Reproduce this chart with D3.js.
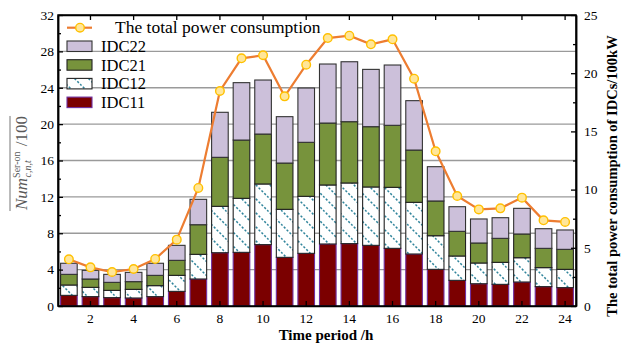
<!DOCTYPE html>
<html>
<head>
<meta charset="utf-8">
<script src="https://cdn.jsdelivr.net/npm/d3@7"></script>
<style>
body{margin:0;background:#fff;}
svg, svg text{font-family:"Liberation Serif","Times New Roman",serif !important;}
</style>
</head>
<body>
<svg id="chart"></svg>
<script>
var hours=d3.range(1,25);
var idc11=[1.17,1.03,0.92,0.88,1.03,1.61,2.97,5.86,5.90,6.75,5.35,5.79,6.82,6.86,6.67,6.34,5.72,4.03,2.82,2.45,2.38,2.64,2.13,2.02];
var idc12=[1.14,1.02,0.80,0.95,1.21,1.76,2.71,5.10,5.94,6.67,5.28,6.27,6.49,6.67,6.42,6.71,5.68,3.70,2.68,2.28,2.42,2.67,2.09,2.01];
var idc21=[1.17,0.92,0.88,0.85,1.13,1.65,3.26,5.39,6.41,5.49,5.09,5.94,6.81,6.74,6.63,6.82,5.75,3.82,2.71,2.20,2.64,2.61,2.12,2.20];
var idc22=[1.22,0.95,0.88,1.02,1.33,1.65,2.79,4.95,6.31,5.94,5.10,5.97,6.49,6.59,6.30,6.63,5.43,3.77,2.71,2.64,2.27,2.82,2.16,2.13];
var power=[4.01,3.32,2.92,3.18,4.04,5.70,10.14,18.47,21.28,21.54,18.01,20.73,23.02,23.22,22.48,22.91,19.53,13.29,9.45,8.30,8.39,9.31,7.36,7.22];
var keys=["IDC11","IDC12","IDC21","IDC22"];
var leftTicks=[0,4,8,12,16,20,24,28,32];
var rightTicks=[0,5,10,15,20,25];
var xTicks=[2,4,6,8,10,12,14,16,18,20,22,24];

var W=628,H=344;
var margin={left:58,right:52,top:15,bottom:38};
var pw=W-margin.left-margin.right, ph=H-margin.top-margin.bottom;
var serif="Liberation Serif, Times New Roman, serif";

var svg=d3.select("#chart").attr("width",W).attr("height",H).style("font-family",serif);
var defs=svg.append("defs");
var pat=defs.append("pattern").attr("id","hatch")
  .attr("patternUnits","userSpaceOnUse").attr("width",14).attr("height",14);
pat.append("rect").attr("width",14).attr("height",14).attr("fill","#fff");
pat.append("path").attr("d","M-1,-1 L15,15 M-1,13 L1,15 M13,-1 L15,1")
  .attr("stroke","#31859C").attr("stroke-width",1.5).attr("stroke-dasharray","2.2,1.8");

var fills={IDC11:"#7B0000",IDC12:"url(#hatch)",IDC21:"#77933C",IDC22:"#CCC0DA"};
var strokes={IDC11:"#7030A0",IDC12:"#222",IDC21:"#222",IDC22:"#333"};

var g=svg.append("g").attr("transform","translate("+margin.left+","+margin.top+")");

var x=d3.scaleBand().domain(hours).range([0,pw]).paddingInner(0.23).paddingOuter(0.12);
var y=d3.scaleLinear().domain([0,32]).range([ph,0]);
var y2=d3.scaleLinear().domain([0,25]).range([ph,0]);

// grid
g.selectAll(".grid").data(leftTicks.slice(1,-1)).enter().append("line")
  .attr("x1",0).attr("x2",pw).attr("y1",function(d){return y(d);}).attr("y2",function(d){return y(d);})
  .attr("stroke","#9a9a9a").attr("stroke-width",1.3);

var table=hours.map(function(h,i){return {hour:h,IDC11:idc11[i],IDC12:idc12[i],IDC21:idc21[i],IDC22:idc22[i]};});
var stack=d3.stack().keys(keys)(table);

g.selectAll(".layer").data(stack).enter().append("g")
  .attr("fill",function(d){return fills[d.key];})
  .attr("stroke",function(d){return strokes[d.key];})
  .selectAll("rect").data(function(d){return d;}).enter().append("rect")
  .attr("x",function(d){return x(d.data.hour);})
  .attr("width",x.bandwidth())
  .attr("y",function(d){return y(d[1]);})
  .attr("height",function(d){return y(d[0])-y(d[1]);})
  .attr("stroke-width",1.1);

// line
var cx=function(h){return x(h)+x.bandwidth()/2;};
var line=d3.line().x(function(d,i){return cx(hours[i]);}).y(function(d){return y2(d);});
g.append("path").datum(power).attr("d",line).attr("fill","none")
  .attr("stroke","#ED7D31").attr("stroke-width",2.2);
g.selectAll(".pt").data(power).enter().append("circle")
  .attr("cx",function(d,i){return cx(hours[i]);}).attr("cy",function(d){return y2(d);})
  .attr("r",4.3).attr("fill","#FFE699").attr("stroke","#FFC000").attr("stroke-width",1.4);

// axes
var xAxis=d3.axisBottom(x).tickValues(xTicks).tickSizeInner(-5).tickSizeOuter(0).tickPadding(7);
g.append("g").attr("transform","translate(0,"+ph+")").call(xAxis);
var xTop=d3.axisTop(x).tickValues(xTicks).tickSizeInner(-5).tickSizeOuter(0).tickFormat("");
g.append("g").call(xTop);

var yAxis=d3.axisLeft(y).tickValues(leftTicks).tickSizeInner(-5).tickSizeOuter(0).tickPadding(4);
g.append("g").call(yAxis);
var yMinor=d3.axisLeft(y).tickValues(d3.range(2,32,4)).tickSizeInner(-3).tickSizeOuter(0).tickFormat("");
g.append("g").call(yMinor);

var yAxis2=d3.axisRight(y2).tickValues(rightTicks).tickSizeInner(-5).tickSizeOuter(0).tickPadding(8);
g.append("g").attr("transform","translate("+pw+",0)").call(yAxis2);
var yMinor2=d3.axisRight(y2).tickValues([2.5,7.5,12.5,17.5,22.5]).tickSizeInner(-3).tickSizeOuter(0).tickFormat("");
g.append("g").attr("transform","translate("+pw+",0)").call(yMinor2);

g.selectAll(".tick").select(function(){return this.parentNode;}).attr("font-family",serif);
g.selectAll(".domain").attr("stroke","#000").attr("stroke-width",1.5);
g.selectAll(".tick line").attr("stroke","#000").attr("stroke-width",1.3);
g.selectAll(".tick text").style("font-family",serif).attr("font-size",13.5).attr("fill","#000");

// frame
g.append("rect").attr("width",pw).attr("height",ph).attr("fill","none").attr("stroke","#000").attr("stroke-width",1.5);

// legend
var lg=g.append("g").attr("transform","translate(9,0)");
lg.append("line").attr("x1",0).attr("x2",25).attr("y1",12.7).attr("y2",12.7).attr("stroke","#ED7D31").attr("stroke-width",2.2);
lg.append("circle").attr("cx",13).attr("cy",12.7).attr("r",4.3).attr("fill","#FFE699").attr("stroke","#FFC000").attr("stroke-width",1.4);
lg.append("text").attr("x",48).attr("y",18).attr("font-size",17.5).style("font-family",serif).text("The total power consumption");
var legKeys=["IDC22","IDC21","IDC12","IDC11"];
lg.selectAll(".lk").data(legKeys).enter().append("rect")
  .attr("x",0).attr("y",function(d,i){return 26+i*18.7;}).attr("width",25).attr("height",10.5)
  .attr("fill",function(d){return fills[d];}).attr("stroke",function(d){return strokes[d];}).attr("stroke-width",1.1);
lg.selectAll(".lt").data(legKeys).enter().append("text")
  .attr("x",34).attr("y",function(d,i){return 37+i*18.7;}).attr("font-size",16.5).style("font-family",serif).text(function(d){return d;});

// axis titles
svg.append("text").attr("x",326).attr("y",340).attr("text-anchor","middle").style("font-family",serif)
  .attr("font-size",15).attr("font-weight","bold").text("Time period /h");
svg.append("text").attr("transform","translate(617,176) rotate(-90)").attr("text-anchor","middle").style("font-family",serif)
  .attr("font-size",14.5).attr("font-weight","bold").text("The total power consumption of IDCs/100kW");

var yl=svg.append("text").attr("transform","translate(27,163) rotate(-90)").attr("text-anchor","middle")
  .style("font-family",serif).attr("fill","#595959").attr("font-size",17);
yl.append("tspan").attr("font-style","italic").text("Num");
yl.append("tspan").attr("font-size",10).attr("dy",-7).text("Ser-on");
yl.append("tspan").attr("font-size",10).attr("font-style","italic").attr("dx",-26).attr("dy",11).text("c,n,t");
yl.append("tspan").attr("dy",-4).attr("dx",14).text("/100");
var bb=yl.node().getBBox();
svg.append("line").attr("transform","translate(27,163) rotate(-90)")
  .attr("x1",bb.x).attr("x2",bb.x+bb.width).attr("y1",bb.y-1).attr("y2",bb.y-1)
  .attr("stroke","#777").attr("stroke-width",1);
</script>
</body>
</html>
